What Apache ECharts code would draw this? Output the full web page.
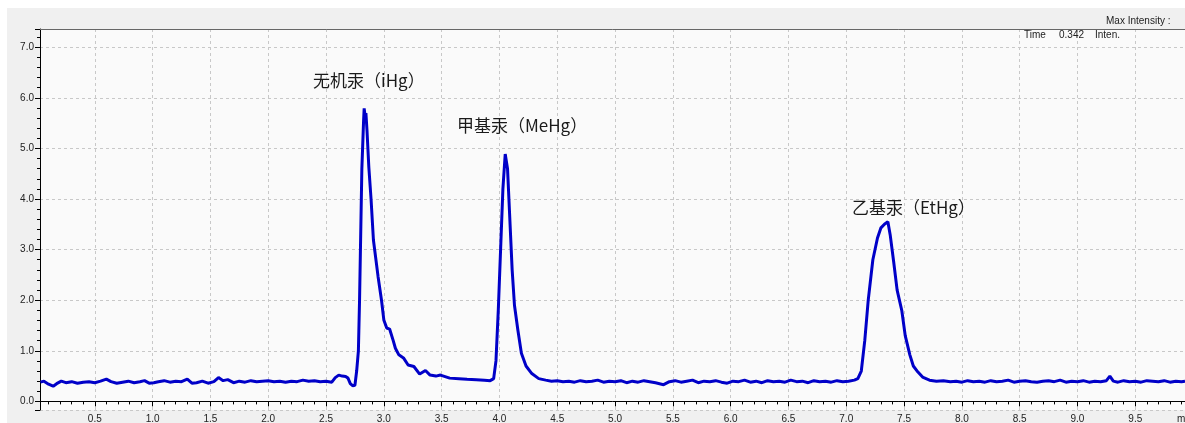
<!DOCTYPE html>
<html>
<head>
<meta charset="utf-8">
<style>
  html, body { margin: 0; padding: 0; background: #ffffff; }
  #main { width: 1185px; height: 423px; }
</style>
<script src="https://cdn.jsdelivr.net/npm/echarts@6/dist/echarts.min.js"></script>
</head>
<body>
<div id="main"></div>
<script>
// retention time (min) and intensity
var times = [
  0.03, 0.06, 0.10, 0.14, 0.17, 0.21, 0.25, 0.30, 0.35, 0.40, 0.45, 0.50, 0.55, 0.60, 0.64, 0.69, 0.74, 0.79, 0.84, 0.89,
  0.93, 0.97, 1.01, 1.05, 1.10, 1.15, 1.20, 1.25, 1.30, 1.34, 1.38, 1.43, 1.48, 1.53, 1.57, 1.61, 1.65, 1.70, 1.75, 1.80,
  1.85, 1.90, 1.95, 2.00, 2.05, 2.10, 2.15, 2.20, 2.25, 2.30, 2.35, 2.40, 2.45, 2.50, 2.55,
  2.58, 2.61, 2.64, 2.67, 2.69, 2.71, 2.73, 2.75, 2.765, 2.78, 2.79, 2.80, 2.81, 2.825, 2.83, 2.84, 2.845, 2.855, 2.87, 2.89,
  2.91, 2.95, 2.98, 3.00, 3.025, 3.05, 3.08, 3.10, 3.13, 3.17, 3.21, 3.26, 3.31, 3.36, 3.40, 3.45, 3.49, 3.57, 3.65, 3.72,
  3.80, 3.87, 3.92, 3.95, 3.97, 3.99, 4.01, 4.03, 4.05, 4.07, 4.09, 4.11, 4.13, 4.16, 4.19, 4.23, 4.28, 4.34, 4.40, 4.45,
  4.50, 4.55, 4.60, 4.65, 4.70, 4.75, 4.80, 4.85, 4.90, 4.95, 5.00, 5.05, 5.10, 5.15, 5.20, 5.25, 5.30, 5.35, 5.42, 5.47,
  5.52, 5.57, 5.62, 5.67, 5.72, 5.77, 5.82, 5.87, 5.92, 5.97, 6.02, 6.07, 6.12, 6.17, 6.22, 6.27, 6.32, 6.37, 6.42, 6.47,
  6.52, 6.57, 6.62, 6.67, 6.72, 6.77, 6.82, 6.87, 6.92, 6.97, 7.02, 7.07, 7.10, 7.13, 7.16, 7.19, 7.23, 7.27, 7.30, 7.33,
  7.36, 7.38, 7.41, 7.44, 7.48, 7.51, 7.55, 7.58, 7.62, 7.66, 7.72, 7.78, 7.84, 7.90, 7.95, 8.00, 8.05, 8.10, 8.15, 8.20,
  8.25, 8.30, 8.35, 8.40, 8.45, 8.50, 8.55, 8.60, 8.65, 8.70, 8.75, 8.80, 8.85, 8.90, 8.95, 9.00, 9.05, 9.10, 9.15, 9.20,
  9.25, 9.28, 9.31, 9.35, 9.40, 9.45, 9.50, 9.55, 9.60, 9.65, 9.70, 9.75, 9.80, 9.85, 9.90, 9.93
];
var intensity = [
  0.38, 0.40, 0.34, 0.30, 0.35, 0.40, 0.37, 0.39, 0.36, 0.38, 0.39, 0.37, 0.40, 0.44, 0.39, 0.36, 0.38, 0.40, 0.37, 0.39,
  0.41, 0.36, 0.37, 0.39, 0.41, 0.38, 0.40, 0.39, 0.44, 0.36, 0.37, 0.40, 0.36, 0.39, 0.47, 0.41, 0.43, 0.37, 0.40, 0.38,
  0.41, 0.39, 0.40, 0.41, 0.39, 0.40, 0.38, 0.40, 0.39, 0.42, 0.40, 0.41, 0.39, 0.40, 0.38,
  0.47, 0.52, 0.50, 0.49, 0.46, 0.35, 0.31, 0.32, 0.60, 1.00, 2.00, 3.30, 4.60, 5.55, 5.79, 5.60, 5.70, 5.33, 4.64, 3.98,
  3.19, 2.47, 2.00, 1.61, 1.45, 1.43, 1.21, 1.05, 0.92, 0.86, 0.72, 0.69, 0.54, 0.61, 0.52, 0.50, 0.52, 0.46, 0.45, 0.44,
  0.43, 0.42, 0.41, 0.45, 0.80, 1.80, 3.00, 4.20, 4.89, 4.60, 3.60, 2.60, 1.90, 1.40, 0.95, 0.70, 0.55, 0.45, 0.42, 0.40,
  0.41, 0.39, 0.40, 0.38, 0.41, 0.39, 0.40, 0.42, 0.38, 0.40, 0.39, 0.41, 0.37, 0.40, 0.38, 0.41, 0.39, 0.37, 0.33, 0.39,
  0.41, 0.38, 0.40, 0.42, 0.37, 0.40, 0.39, 0.41, 0.38, 0.36, 0.40, 0.39, 0.42, 0.38, 0.40, 0.37, 0.41, 0.39, 0.40, 0.38,
  0.42, 0.39, 0.40, 0.37, 0.41, 0.39, 0.40, 0.38, 0.41, 0.39, 0.40, 0.42, 0.45, 0.60, 1.20, 2.00, 2.80, 3.23, 3.43, 3.50,
  3.55, 3.29, 2.76, 2.20, 1.80, 1.30, 0.92, 0.70, 0.58, 0.48, 0.42, 0.40, 0.41, 0.39, 0.40, 0.38, 0.41, 0.39, 0.40, 0.38,
  0.41, 0.39, 0.40, 0.42, 0.38, 0.40, 0.41, 0.39, 0.38, 0.40, 0.41, 0.39, 0.42, 0.38, 0.40, 0.39, 0.41, 0.38, 0.40, 0.39,
  0.41, 0.50, 0.40, 0.38, 0.41, 0.39, 0.40, 0.38, 0.41, 0.40, 0.39, 0.41, 0.38, 0.40, 0.39, 0.40
];
var xRange = [0.026, 9.93];
var yRange = [-0.17, 7.36];
var peakNames = ['无机汞（iHg）', '甲基汞（MeHg）', '乙基汞（EtHg）'];

var myChart = echarts.init(document.getElementById('main'));

var trace = times.map(function (t, i) {
  return [t, intensity[i]];
});

var labelFont = 'Liberation Sans, Arial, sans-serif';
var cjkFont = '17px "Noto Sans CJK SC", sans-serif';
var isStep = function (v, step) {
  return Math.abs(v / step - Math.round(v / step)) < 1e-6;
};

option = {
  backgroundColor: '#ffffff',
  animation: false,
  grid: {
    left: 40,
    top: 29,
    right: 0,
    bottom: 13,
    outerBoundsMode: 'none',
    containLabel: false,
    show: true,
    backgroundColor: '#fafafa',
    borderWidth: 0
  },
  xAxis: [{
    type: 'value',
    position: 'bottom',
    min: xRange[0],
    max: xRange[1],
    minInterval: 0.5,
    maxInterval: 0.5,
    axisLine: { lineStyle: { color: '#000', width: 1 } },
    axisTick: { length: 5, lineStyle: { color: '#000' } },
    axisLabel: {
      margin: 4,
      fontSize: 10,
      fontFamily: labelFont,
      color: '#222',
      formatter: function (v) {
        if (v >= xRange[1] - 1e-6) return 'min';
        return isStep(v, 0.5) ? v.toFixed(1) : '';
      }
    },
    splitLine: { show: true, lineStyle: { color: '#c8c8c8', type: [3, 3] } }
  }, {
    type: 'value',
    position: 'bottom',
    min: xRange[0],
    max: xRange[1],
    minInterval: 0.1,
    maxInterval: 0.1,
    axisLine: { show: false },
    axisTick: { length: 3, lineStyle: { color: '#000' } },
    axisLabel: { show: false },
    splitLine: { show: false }
  }],
  yAxis: [{
    type: 'value',
    position: 'left',
    min: yRange[0],
    max: yRange[1],
    minInterval: 1,
    maxInterval: 1,
    axisLine: { show: true, lineStyle: { color: '#000', width: 1 } },
    axisTick: { show: true, length: 5, lineStyle: { color: '#000' } },
    axisLabel: {
      margin: 6,
      fontSize: 10,
      fontFamily: labelFont,
      color: '#222',
      formatter: function (v) {
        return isStep(v, 1) ? v.toFixed(1) : '';
      }
    },
    splitLine: { show: true, lineStyle: { color: '#c8c8c8', type: [3, 3] } }
  }, {
    type: 'value',
    position: 'left',
    min: yRange[0],
    max: yRange[1],
    minInterval: 0.2,
    maxInterval: 0.2,
    axisLine: { show: false },
    axisTick: { show: true, length: 3, lineStyle: { color: '#000' } },
    axisLabel: { show: false },
    splitLine: { show: false }
  }],
  graphic: [
    { type: 'rect', z: -10, silent: true, shape: { x: 7, y: 8, width: 1178, height: 415 }, style: { fill: '#f0f0f0' } },
    { type: 'line', z: 10, silent: true, shape: { x1: 40, y1: 29.5, x2: 1185, y2: 29.5 }, style: { stroke: '#666', lineWidth: 1 } },
    { type: 'text', z: 10, left: 1106, top: 16, style: { text: 'Max Intensity :', font: '10px ' + labelFont, fill: '#222' } },
    { type: 'text', z: 10, left: 1024, top: 30, style: { text: 'Time', font: '10px ' + labelFont, fill: '#222' } },
    { type: 'text', z: 10, left: 1059, top: 30, style: { text: '0.342', font: '10px ' + labelFont, fill: '#222' } },
    { type: 'text', z: 10, left: 1095, top: 30, style: { text: 'Inten.', font: '10px ' + labelFont, fill: '#222' } },
    { type: 'text', z: 10, left: 313, top: 72, style: { text: peakNames[0], font: cjkFont, fill: '#1a1a1a' } },
    { type: 'text', z: 10, left: 457, top: 117, style: { text: peakNames[1], font: cjkFont, fill: '#1a1a1a' } },
    { type: 'text', z: 10, left: 852, top: 199, style: { text: peakNames[2], font: cjkFont, fill: '#1a1a1a' } }
  ],
  series: [{
    type: 'line',
    xAxisIndex: 0,
    yAxisIndex: 0,
    data: trace,
    showSymbol: false,
    symbol: 'none',
    smooth: false,
    clip: true,
    lineStyle: { color: '#0000c8', width: 3 }
  }]
};
myChart.setOption(option);
</script>
</body>
</html>
